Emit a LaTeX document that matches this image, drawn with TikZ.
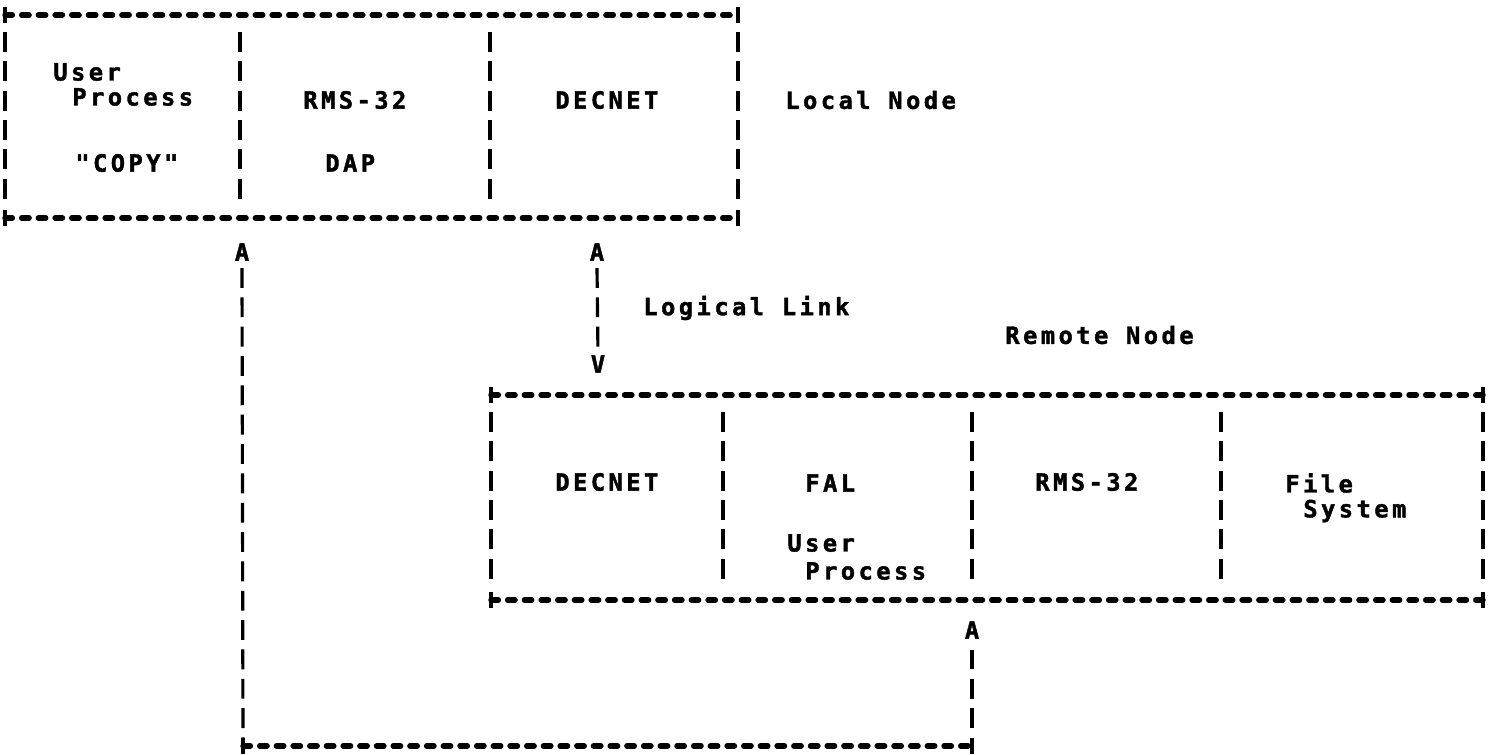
\documentclass[tikz,border=0pt]{standalone}
\usepackage{fontspec}
\newfontfamily\lpfont[LetterSpace=14.6,FakeBold=1.6]{DejaVu Sans Mono Bold}
\usetikzlibrary{calc}

\begin{document}
\begin{tikzpicture}[x=0.02cm,y=-0.02cm,
  hdash/.style={line width=3.1pt,line cap=round,dash pattern=on 4.2pt off 5.3pt},
  vdash/.style={line width=1.8pt,dash pattern=on 11.3pt off 5.4pt},
  plusmark/.style={line width=1.8pt},
  lbl/.style={inner sep=0pt,anchor=west,font=\lpfont\fontsize{13.5}{16}\selectfont},
  arrowtxt/.style={inner sep=0pt,font=\lpfont\fontsize{13.5}{16}\selectfont}]
  \useasboundingbox (0,0) rectangle (1497,754);
  % local node box
  \coordinate (lnw) at (5,15);
  \coordinate (lne) at (738,15);
  \coordinate (lsw) at (5,218);
  \coordinate (lse) at (738,218);
  \draw[hdash] (lnw) -- (lne);
  \draw[hdash] (lsw) -- (lse);
  \foreach \x in {5,240,490,738}
    \draw[vdash] (\x,32) -- (\x,200);
  % remote node box
  \coordinate (rnw) at (491,395);
  \coordinate (rne) at (1483,395);
  \coordinate (rsw) at (491,600);
  \coordinate (rse) at (1483,600);
  \draw[hdash] (rnw) -- (rne);
  \draw[hdash] (rsw) -- (rse);
  \foreach \x in {491,723,972,1221,1483}
    \draw[vdash] (\x,412) -- (\x,580);
  % loop corners
  \coordinate (lpw) at (243,746);
  \coordinate (lpe) at (972,746);
  \foreach \c in {lnw,lne,lsw,lse,rnw,rne,rsw,rse,lpw,lpe}
    \draw[plusmark] (\c) ++(0,-8) -- ++(0,16);

  % labels, local node
  \node[lbl] (usr) at (53,72) {User};
  \node[lbl] (proc) at (72,97) {Process};
  \node[lbl] (copy) at (75,163) {"COPY"};
  \node[lbl] (rms) at (303,100) {RMS-32};
  \node[lbl] (dap) at (325,163) {DAP};
  \node[lbl] (dnet) at (555,100) {DECNET};
  \node[lbl] (local) at (785,100) {Local Node};
  % labels, remote node
  \node[lbl] (logic) at (643,308) {Logical Link};
  \node[lbl] (remote) at (1005,335) {Remote Node};
  \node[lbl] (rdnet) at (555,482) {DECNET};
  \node[lbl] (fal) at (805,483) {FAL};
  \node[lbl] (rusr) at (787,543) {User};
  \node[lbl] (rproc) at (805,571) {Process};
  \node[lbl] (rrms) at (1035,482) {RMS-32};
  \node[lbl] (file) at (1285,483) {File};
  \node[lbl] (sys) at (1303,511) {System};

  % arrows
  \node[arrowtxt] (upA) at (242,252) {A};
  \node[arrowtxt] (llA) at (597,252) {A};
  \node[arrowtxt] (llV) at (598,364) {V};
  \node[arrowtxt] (remA) at (972,630) {A};
  \draw[vdash] ([yshift=-4pt]llA.south) -- (llV.north);
  \draw[vdash] ([yshift=-4pt]upA.south) -- (lpw);
  \draw[hdash] (lpw) -- (lpe);
  \draw[vdash,shorten >=9pt] ([yshift=-6pt]remA.south) -- (lpe);
\end{tikzpicture}
\end{document}
